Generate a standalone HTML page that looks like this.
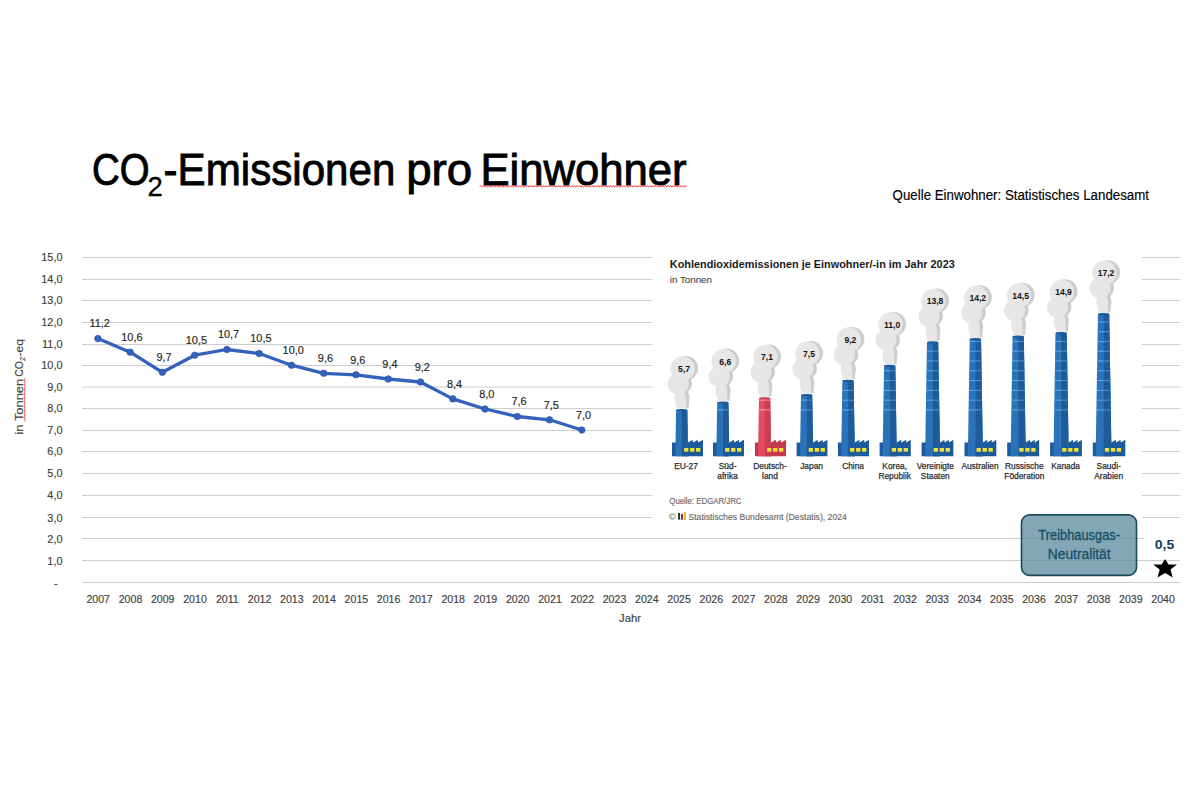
<!DOCTYPE html>
<html><head><meta charset="utf-8"><style>
html,body{margin:0;padding:0;background:#fff;}
body{width:1200px;height:800px;overflow:hidden;position:relative;font-family:"Liberation Sans", sans-serif;}
svg{position:absolute;left:0;top:0;}
</style></head><body>
<svg width="1200" height="800" viewBox="0 0 1200 800">
<g font-family='"Liberation Sans", sans-serif' fill="#000" stroke="#000" stroke-width="0.9">
<text x="92" y="184.7" font-size="44" textLength="57.5" lengthAdjust="spacingAndGlyphs">CO</text>
<text x="147.6" y="195.6" font-size="27.5" stroke-width="0.3">2</text>
<text x="163.6" y="184.7" font-size="44" textLength="231.8" lengthAdjust="spacingAndGlyphs">-Emissionen</text>
<text x="406.2" y="184.7" font-size="44" textLength="66" lengthAdjust="spacingAndGlyphs">pro</text>
<text x="480.4" y="184.7" font-size="44" textLength="206.2" lengthAdjust="spacingAndGlyphs">Einwohner</text>
</g>
<text x="892.6" y="200.4" font-family='"Liberation Sans", sans-serif' font-size="14" fill="#000" stroke="#000" stroke-width="0.15" textLength="256.4" lengthAdjust="spacingAndGlyphs">Quelle Einwohner: Statistisches Landesamt</text>
<path d="M479.6,186.3 L480.9,185.4 L482.2,187.2 L483.5,185.4 L484.8,187.2 L486.1,185.4 L487.4,187.2 L488.7,185.4 L490.0,187.2 L491.3,185.4 L492.6,187.2 L493.9,185.4 L495.2,187.2 L496.5,185.4 L497.8,187.2 L499.1,185.4 L500.4,187.2 L501.7,185.4 L503.0,187.2 L504.3,185.4 L505.6,187.2 L506.9,185.4 L508.2,187.2 L509.5,185.4 L510.8,187.2 L512.1,185.4 L513.4,187.2 L514.7,185.4 L516.0,187.2 L517.3,185.4 L518.6,187.2 L519.9,185.4 L521.2,187.2 L522.5,185.4 L523.8,187.2 L525.1,185.4 L526.4,187.2 L527.7,185.4 L529.0,187.2 L530.3,185.4 L531.6,187.2 L532.9,185.4 L534.2,187.2 L535.5,185.4 L536.8,187.2 L538.1,185.4 L539.4,187.2 L540.7,185.4 L542.0,187.2 L543.3,185.4 L544.6,187.2 L545.9,185.4 L547.2,187.2 L548.5,185.4 L549.8,187.2 L551.1,185.4 L552.4,187.2 L553.7,185.4 L555.0,187.2 L556.3,185.4 L557.6,187.2 L558.9,185.4 L560.2,187.2 L561.5,185.4 L562.8,187.2 L564.1,185.4 L565.4,187.2 L566.7,185.4 L568.0,187.2 L569.3,185.4 L570.6,187.2 L571.9,185.4 L573.2,187.2 L574.5,185.4 L575.8,187.2 L577.1,185.4 L578.4,187.2 L579.7,185.4 L581.0,187.2 L582.3,185.4 L583.6,187.2 L584.9,185.4 L586.2,187.2 L587.5,185.4 L588.8,187.2 L590.1,185.4 L591.4,187.2 L592.7,185.4 L594.0,187.2 L595.3,185.4 L596.6,187.2 L597.9,185.4 L599.2,187.2 L600.5,185.4 L601.8,187.2 L603.1,185.4 L604.4,187.2 L605.7,185.4 L607.0,187.2 L608.3,185.4 L609.6,187.2 L610.9,185.4 L612.2,187.2 L613.5,185.4 L614.8,187.2 L616.1,185.4 L617.4,187.2 L618.7,185.4 L620.0,187.2 L621.3,185.4 L622.6,187.2 L623.9,185.4 L625.2,187.2 L626.5,185.4 L627.8,187.2 L629.1,185.4 L630.4,187.2 L631.7,185.4 L633.0,187.2 L634.3,185.4 L635.6,187.2 L636.9,185.4 L638.2,187.2 L639.5,185.4 L640.8,187.2 L642.1,185.4 L643.4,187.2 L644.7,185.4 L646.0,187.2 L647.3,185.4 L648.6,187.2 L649.9,185.4 L651.2,187.2 L652.5,185.4 L653.8,187.2 L655.1,185.4 L656.4,187.2 L657.7,185.4 L659.0,187.2 L660.3,185.4 L661.6,187.2 L662.9,185.4 L664.2,187.2 L665.5,185.4 L666.8,187.2 L668.1,185.4 L669.4,187.2 L670.7,185.4 L672.0,187.2 L673.3,185.4 L674.6,187.2 L675.9,185.4 L677.2,187.2 L678.5,185.4 L679.8,187.2 L681.1,185.4 L682.4,187.2 L683.7,185.4 L685.0,187.2 L686.3,185.4" fill="none" stroke="#e03030" stroke-width="0.8"/>
<g stroke="#cdcdcd" stroke-width="1"><line x1="82" y1="582.5" x2="1180" y2="582.5"/><line x1="82" y1="560.5" x2="1180" y2="560.5"/><line x1="82" y1="538.5" x2="1180" y2="538.5"/><line x1="82" y1="517.5" x2="1180" y2="517.5"/><line x1="82" y1="495.5" x2="1180" y2="495.5"/><line x1="82" y1="473.5" x2="1180" y2="473.5"/><line x1="82" y1="451.5" x2="1180" y2="451.5"/><line x1="82" y1="430.5" x2="1180" y2="430.5"/><line x1="82" y1="408.5" x2="1180" y2="408.5"/><line x1="82" y1="387.0" x2="1180" y2="387.0"/><line x1="82" y1="365.5" x2="1180" y2="365.5"/><line x1="82" y1="344.5" x2="1180" y2="344.5"/><line x1="82" y1="322.5" x2="1180" y2="322.5"/><line x1="82" y1="300.5" x2="1180" y2="300.5"/><line x1="82" y1="279.5" x2="1180" y2="279.5"/><line x1="82" y1="257.5" x2="1180" y2="257.5"/></g>
<g font-family='"Liberation Sans", sans-serif' font-size="10.9" fill="#404040" stroke="#404040" stroke-width="0.15"><text x="62.5" y="564.5" text-anchor="end">1,0</text><text x="62.5" y="542.5" text-anchor="end">2,0</text><text x="62.5" y="521.5" text-anchor="end">3,0</text><text x="62.5" y="499.4" text-anchor="end">4,0</text><text x="62.5" y="477.4" text-anchor="end">5,0</text><text x="62.5" y="455.4" text-anchor="end">6,0</text><text x="62.5" y="434.4" text-anchor="end">7,0</text><text x="62.5" y="412.4" text-anchor="end">8,0</text><text x="62.5" y="390.9" text-anchor="end">9,0</text><text x="62.5" y="369.4" text-anchor="end">10,0</text><text x="62.5" y="348.4" text-anchor="end">11,0</text><text x="62.5" y="326.4" text-anchor="end">12,0</text><text x="62.5" y="304.4" text-anchor="end">13,0</text><text x="62.5" y="283.4" text-anchor="end">14,0</text><text x="62.5" y="261.4" text-anchor="end">15,0</text><text x="57.6" y="586.5" text-anchor="end">-</text></g>
<g font-family='"Liberation Sans", sans-serif' font-size="10.6" fill="#404040" stroke="#404040" stroke-width="0.15"><text x="98.2" y="602.9" text-anchor="middle">2007</text><text x="130.5" y="602.9" text-anchor="middle">2008</text><text x="162.7" y="602.9" text-anchor="middle">2009</text><text x="195.0" y="602.9" text-anchor="middle">2010</text><text x="227.3" y="602.9" text-anchor="middle">2011</text><text x="259.6" y="602.9" text-anchor="middle">2012</text><text x="291.8" y="602.9" text-anchor="middle">2013</text><text x="324.1" y="602.9" text-anchor="middle">2014</text><text x="356.4" y="602.9" text-anchor="middle">2015</text><text x="388.6" y="602.9" text-anchor="middle">2016</text><text x="420.9" y="602.9" text-anchor="middle">2017</text><text x="453.2" y="602.9" text-anchor="middle">2018</text><text x="485.4" y="602.9" text-anchor="middle">2019</text><text x="517.7" y="602.9" text-anchor="middle">2020</text><text x="550.0" y="602.9" text-anchor="middle">2021</text><text x="582.3" y="602.9" text-anchor="middle">2022</text><text x="614.5" y="602.9" text-anchor="middle">2023</text><text x="646.8" y="602.9" text-anchor="middle">2024</text><text x="679.1" y="602.9" text-anchor="middle">2025</text><text x="711.3" y="602.9" text-anchor="middle">2026</text><text x="743.6" y="602.9" text-anchor="middle">2027</text><text x="775.9" y="602.9" text-anchor="middle">2028</text><text x="808.1" y="602.9" text-anchor="middle">2029</text><text x="840.4" y="602.9" text-anchor="middle">2030</text><text x="872.7" y="602.9" text-anchor="middle">2031</text><text x="905.0" y="602.9" text-anchor="middle">2032</text><text x="937.2" y="602.9" text-anchor="middle">2033</text><text x="969.5" y="602.9" text-anchor="middle">2034</text><text x="1001.8" y="602.9" text-anchor="middle">2035</text><text x="1034.0" y="602.9" text-anchor="middle">2036</text><text x="1066.3" y="602.9" text-anchor="middle">2037</text><text x="1098.6" y="602.9" text-anchor="middle">2038</text><text x="1130.8" y="602.9" text-anchor="middle">2039</text><text x="1163.1" y="602.9" text-anchor="middle">2040</text></g>
<text x="630" y="622" text-anchor="middle" font-family='"Liberation Sans", sans-serif' font-size="11.2" fill="#404040" stroke="#404040" stroke-width="0.15">Jahr</text>
<g transform="translate(23,434.5) rotate(-90)" font-family='"Liberation Sans", sans-serif' font-size="11.6" fill="#404040" stroke="#404040" stroke-width="0.12"><text x="0" y="0" textLength="55.7" lengthAdjust="spacingAndGlyphs">in Tonnen</text><text x="57.8" y="0" textLength="15.7" lengthAdjust="spacingAndGlyphs">CO</text><text x="73.6" y="2.2" font-size="7.5" textLength="4.1" lengthAdjust="spacingAndGlyphs">2</text><text x="77.7" y="0" textLength="17.9" lengthAdjust="spacingAndGlyphs">-eq</text></g>
<path d="M24.6,421.4 L25.4,420.1 L23.8,418.8 L25.4,417.5 L23.8,416.2 L25.4,414.9 L23.8,413.6 L25.4,412.3 L23.8,411.0 L25.4,409.7 L23.8,408.4 L25.4,407.1 L23.8,405.8 L25.4,404.5 L23.8,403.2 L25.4,401.9 L23.8,400.6 L25.4,399.3 L23.8,398.0 L25.4,396.7 L23.8,395.4 L25.4,394.1 L23.8,392.8 L25.4,391.5 L23.8,390.2 L25.4,388.9 L23.8,387.6 L25.4,386.3 L23.8,385.0 L25.4,383.7 L23.8,382.4 L25.4,381.1 L23.8,379.8 L25.4,378.5" fill="none" stroke="#e03030" stroke-width="0.8"/>
<path d="M97.9,338.6 L130.2,352.2 L162.4,372.3 L194.7,355.2 L226.9,349.5 L259.2,353.5 L291.5,365.2 L323.7,373.3 L356.0,374.8 L388.2,379.0 L420.5,382.0 L452.8,398.9 L485.0,409.0 L517.3,416.5 L549.5,419.8 L581.8,430.0" fill="none" stroke="#3461bc" stroke-width="3.3" stroke-linejoin="round"/>
<g fill="#3461bc" stroke="#2a54a8" stroke-width="0.6"><circle cx="97.9" cy="338.6" r="3.3"/><circle cx="130.2" cy="352.2" r="3.3"/><circle cx="162.4" cy="372.3" r="3.3"/><circle cx="194.7" cy="355.2" r="3.3"/><circle cx="226.9" cy="349.5" r="3.3"/><circle cx="259.2" cy="353.5" r="3.3"/><circle cx="291.5" cy="365.2" r="3.3"/><circle cx="323.7" cy="373.3" r="3.3"/><circle cx="356.0" cy="374.8" r="3.3"/><circle cx="388.2" cy="379.0" r="3.3"/><circle cx="420.5" cy="382.0" r="3.3"/><circle cx="452.8" cy="398.9" r="3.3"/><circle cx="485.0" cy="409.0" r="3.3"/><circle cx="517.3" cy="416.5" r="3.3"/><circle cx="549.5" cy="419.8" r="3.3"/><circle cx="581.8" cy="430.0" r="3.3"/></g>
<g font-family='"Liberation Sans", sans-serif' font-size="10.9" fill="#1e1e1e" stroke="#1e1e1e" stroke-width="0.15"><text x="99.6" y="327.2" text-anchor="middle">11,2</text><text x="131.9" y="340.9" text-anchor="middle">10,6</text><text x="164.1" y="361.0" text-anchor="middle">9,7</text><text x="196.4" y="343.9" text-anchor="middle">10,5</text><text x="228.6" y="338.2" text-anchor="middle">10,7</text><text x="260.9" y="342.2" text-anchor="middle">10,5</text><text x="293.2" y="353.9" text-anchor="middle">10,0</text><text x="325.4" y="362.0" text-anchor="middle">9,6</text><text x="357.7" y="363.5" text-anchor="middle">9,6</text><text x="389.9" y="367.7" text-anchor="middle">9,4</text><text x="422.2" y="370.7" text-anchor="middle">9,2</text><text x="454.5" y="387.6" text-anchor="middle">8,4</text><text x="486.7" y="397.7" text-anchor="middle">8,0</text><text x="519.0" y="405.2" text-anchor="middle">7,6</text><text x="551.2" y="408.5" text-anchor="middle">7,5</text><text x="583.5" y="418.7" text-anchor="middle">7,0</text></g>
<rect x="652" y="247" width="490" height="282" fill="#ffffff"/>
<text x="669.8" y="268.3" font-family='"Liberation Sans", sans-serif' font-weight="bold" font-size="11.4" fill="#1a1a1a" textLength="285" lengthAdjust="spacingAndGlyphs">Kohlendioxidemissionen je Einwohner/-in im Jahr 2023</text>
<text x="669.8" y="282.7" font-family='"Liberation Sans", sans-serif' font-size="9.9" fill="#444" stroke="#444" stroke-width="0.1" textLength="42.2" lengthAdjust="spacingAndGlyphs">in Tonnen</text>
<g fill="#cdcdcd"><ellipse cx="685.9" cy="368.3" rx="12.2" ry="12.2"/><ellipse cx="681.5" cy="383.6" rx="10.6" ry="10.6"/><ellipse cx="683.7" cy="398.3" rx="5.8" ry="9.6"/><rect x="679.7" y="401.9" width="9" height="6.4"/><ellipse cx="727.0" cy="360.8" rx="12.2" ry="12.2"/><ellipse cx="722.6" cy="376.1" rx="10.6" ry="10.6"/><ellipse cx="724.8" cy="390.8" rx="5.8" ry="9.6"/><rect x="720.8" y="394.4" width="9" height="6.4"/><ellipse cx="768.8" cy="356.6" rx="12.2" ry="12.2"/><ellipse cx="764.4" cy="371.9" rx="10.6" ry="10.6"/><ellipse cx="766.6" cy="386.6" rx="5.8" ry="9.6"/><rect x="762.6" y="390.2" width="9" height="6.4"/><ellipse cx="810.8" cy="353.3" rx="12.2" ry="12.2"/><ellipse cx="806.4" cy="368.6" rx="10.6" ry="10.6"/><ellipse cx="808.6" cy="383.3" rx="5.8" ry="9.6"/><rect x="804.6" y="386.9" width="9" height="6.4"/><ellipse cx="852.2" cy="339.1" rx="12.2" ry="12.2"/><ellipse cx="847.8" cy="354.4" rx="10.6" ry="10.6"/><ellipse cx="850.0" cy="369.1" rx="5.8" ry="9.6"/><rect x="846.0" y="372.7" width="9" height="6.4"/><ellipse cx="893.9" cy="324.1" rx="12.2" ry="12.2"/><ellipse cx="889.5" cy="339.4" rx="10.6" ry="10.6"/><ellipse cx="891.7" cy="354.1" rx="5.8" ry="9.6"/><rect x="887.7" y="357.7" width="9" height="6.4"/><ellipse cx="936.8" cy="300.7" rx="12.2" ry="12.2"/><ellipse cx="932.4" cy="316.0" rx="10.6" ry="10.6"/><ellipse cx="934.6" cy="330.7" rx="5.8" ry="9.6"/><rect x="930.6" y="334.3" width="9" height="6.4"/><ellipse cx="979.6" cy="297.4" rx="12.2" ry="12.2"/><ellipse cx="975.2" cy="312.7" rx="10.6" ry="10.6"/><ellipse cx="977.4" cy="327.4" rx="5.8" ry="9.6"/><rect x="973.4" y="331.0" width="9" height="6.4"/><ellipse cx="1022.4" cy="294.9" rx="12.2" ry="12.2"/><ellipse cx="1018.0" cy="310.2" rx="10.6" ry="10.6"/><ellipse cx="1020.2" cy="324.9" rx="5.8" ry="9.6"/><rect x="1016.2" y="328.5" width="9" height="6.4"/><ellipse cx="1065.3" cy="291.5" rx="12.2" ry="12.2"/><ellipse cx="1060.9" cy="306.8" rx="10.6" ry="10.6"/><ellipse cx="1063.1" cy="321.5" rx="5.8" ry="9.6"/><rect x="1059.1" y="325.1" width="9" height="6.4"/><ellipse cx="1107.8" cy="272.4" rx="12.2" ry="12.2"/><ellipse cx="1103.4" cy="287.7" rx="10.6" ry="10.6"/><ellipse cx="1105.6" cy="302.4" rx="5.8" ry="9.6"/><rect x="1101.6" y="306.0" width="9" height="6.4"/></g>
<g fill="#e7e7e7"><ellipse cx="682.5" cy="368.7" rx="12.2" ry="12.2"/><ellipse cx="678.1" cy="384.0" rx="10.6" ry="10.6"/><ellipse cx="680.3" cy="398.7" rx="5.8" ry="9.6"/><rect x="676.5" y="401.9" width="9.8" height="6.4"/><ellipse cx="723.6" cy="361.2" rx="12.2" ry="12.2"/><ellipse cx="719.2" cy="376.5" rx="10.6" ry="10.6"/><ellipse cx="721.4" cy="391.2" rx="5.8" ry="9.6"/><rect x="717.6" y="394.4" width="9.8" height="6.4"/><ellipse cx="765.4" cy="357.0" rx="12.2" ry="12.2"/><ellipse cx="761.0" cy="372.3" rx="10.6" ry="10.6"/><ellipse cx="763.2" cy="387.0" rx="5.8" ry="9.6"/><rect x="759.4" y="390.2" width="9.8" height="6.4"/><ellipse cx="807.4" cy="353.7" rx="12.2" ry="12.2"/><ellipse cx="803.0" cy="369.0" rx="10.6" ry="10.6"/><ellipse cx="805.2" cy="383.7" rx="5.8" ry="9.6"/><rect x="801.4" y="386.9" width="9.8" height="6.4"/><ellipse cx="848.8" cy="339.5" rx="12.2" ry="12.2"/><ellipse cx="844.4" cy="354.8" rx="10.6" ry="10.6"/><ellipse cx="846.6" cy="369.5" rx="5.8" ry="9.6"/><rect x="842.8" y="372.7" width="9.8" height="6.4"/><ellipse cx="890.5" cy="324.5" rx="12.2" ry="12.2"/><ellipse cx="886.1" cy="339.8" rx="10.6" ry="10.6"/><ellipse cx="888.3" cy="354.5" rx="5.8" ry="9.6"/><rect x="884.5" y="357.7" width="9.8" height="6.4"/><ellipse cx="933.4" cy="301.1" rx="12.2" ry="12.2"/><ellipse cx="929.0" cy="316.4" rx="10.6" ry="10.6"/><ellipse cx="931.2" cy="331.1" rx="5.8" ry="9.6"/><rect x="927.4" y="334.3" width="9.8" height="6.4"/><ellipse cx="976.2" cy="297.8" rx="12.2" ry="12.2"/><ellipse cx="971.8" cy="313.1" rx="10.6" ry="10.6"/><ellipse cx="974.0" cy="327.8" rx="5.8" ry="9.6"/><rect x="970.2" y="331.0" width="9.8" height="6.4"/><ellipse cx="1019.0" cy="295.3" rx="12.2" ry="12.2"/><ellipse cx="1014.6" cy="310.6" rx="10.6" ry="10.6"/><ellipse cx="1016.8" cy="325.3" rx="5.8" ry="9.6"/><rect x="1013.0" y="328.5" width="9.8" height="6.4"/><ellipse cx="1061.9" cy="291.9" rx="12.2" ry="12.2"/><ellipse cx="1057.5" cy="307.2" rx="10.6" ry="10.6"/><ellipse cx="1059.7" cy="321.9" rx="5.8" ry="9.6"/><rect x="1055.9" y="325.1" width="9.8" height="6.4"/><ellipse cx="1104.4" cy="272.8" rx="12.2" ry="12.2"/><ellipse cx="1100.0" cy="288.1" rx="10.6" ry="10.6"/><ellipse cx="1102.2" cy="302.8" rx="5.8" ry="9.6"/><rect x="1098.4" y="306.0" width="9.8" height="6.4"/></g>
<polygon points="672.0,456.2 672.0,442.4 687.8,442.4 688.4,442.3 692.9,439.7 692.9,442.2 693.5,442.3 697.9,439.7 697.9,442.2 698.5,442.3 703.0,439.7 703.0,439.7 703.0,456.2" fill="#1d5a9c"/><polygon points="676.08,410.0 687.32,410.0 688.08,456.2 675.32,456.2" fill="#2a72ba"/><polygon points="681.90,410.0 687.32,410.0 688.08,456.2 681.90,456.2" fill="#1e5b98"/><ellipse cx="681.70" cy="410.0" rx="5.60" ry="1.1" fill="#1e5b98"/><rect x="684.1" y="448.0" width="4.3" height="3.7" fill="#f0e23c"/><rect x="690.1" y="448.0" width="4.3" height="3.7" fill="#f0e23c"/><rect x="696.0" y="448.0" width="4.3" height="3.7" fill="#f0e23c"/><polygon points="713.0,456.2 713.0,442.4 729.1,442.4 729.7,442.3 734.0,439.7 734.0,442.2 734.6,442.3 739.0,439.7 739.0,442.2 739.6,442.3 744.0,439.7 744.0,439.7 744.0,456.2" fill="#1d5a9c"/><polygon points="717.18,402.5 728.42,402.5 729.30,456.2 716.30,456.2" fill="#2a72ba"/><polygon points="723.00,402.5 728.42,402.5 729.30,456.2 723.00,456.2" fill="#1e5b98"/><ellipse cx="722.80" cy="402.5" rx="5.60" ry="1.1" fill="#1e5b98"/><rect x="717.06" y="409.3" width="5.94" height="1.1" fill="#5ea8e8"/><rect x="723.00" y="409.3" width="5.54" height="1.1" fill="#4d8dc8"/><rect x="725.1" y="448.0" width="4.3" height="3.7" fill="#f0e23c"/><rect x="731.1" y="448.0" width="4.3" height="3.7" fill="#f0e23c"/><rect x="737.0" y="448.0" width="4.3" height="3.7" fill="#f0e23c"/><polygon points="755.0,456.2 755.0,442.4 770.9,442.4 771.5,442.3 776.0,439.7 776.0,442.2 776.6,442.3 781.0,439.7 781.0,442.2 781.6,442.3 786.0,439.7 786.0,439.7 786.0,456.2" fill="#c63a4e"/><polygon points="758.98,398.3 770.22,398.3 771.17,456.2 758.03,456.2" fill="#e24b60"/><polygon points="764.80,398.3 770.22,398.3 771.17,456.2 764.80,456.2" fill="#c93e52"/><ellipse cx="764.60" cy="398.3" rx="5.60" ry="1.1" fill="#c93e52"/><rect x="758.79" y="409.3" width="6.01" height="1.1" fill="#f6a5b0"/><rect x="764.80" y="409.3" width="5.61" height="1.1" fill="#e98d99"/><rect x="758.95" y="399.6" width="5.85" height="1.1" fill="#f6a5b0"/><rect x="764.80" y="399.6" width="5.45" height="1.1" fill="#e98d99"/><rect x="767.1" y="448.0" width="4.3" height="3.7" fill="#f0e23c"/><rect x="773.1" y="448.0" width="4.3" height="3.7" fill="#f0e23c"/><rect x="779.0" y="448.0" width="4.3" height="3.7" fill="#f0e23c"/><polygon points="796.6,456.2 796.6,442.4 813.0,442.4 813.6,442.3 817.8,439.7 817.8,442.2 818.4,442.3 822.6,439.7 822.6,442.2 823.2,442.3 827.4,439.7 827.4,439.7 827.4,456.2" fill="#1d5a9c"/><polygon points="800.98,395.0 812.22,395.0 813.23,456.2 799.97,456.2" fill="#2a72ba"/><polygon points="806.80,395.0 812.22,395.0 813.23,456.2 806.80,456.2" fill="#1e5b98"/><ellipse cx="806.60" cy="395.0" rx="5.60" ry="1.1" fill="#1e5b98"/><rect x="800.74" y="409.3" width="6.06" height="1.1" fill="#5ea8e8"/><rect x="806.80" y="409.3" width="5.66" height="1.1" fill="#4d8dc8"/><rect x="800.90" y="399.6" width="5.90" height="1.1" fill="#5ea8e8"/><rect x="806.80" y="399.6" width="5.50" height="1.1" fill="#4d8dc8"/><rect x="808.7" y="448.0" width="4.3" height="3.7" fill="#f0e23c"/><rect x="814.7" y="448.0" width="4.3" height="3.7" fill="#f0e23c"/><rect x="820.6" y="448.0" width="4.3" height="3.7" fill="#f0e23c"/><polygon points="838.0,456.2 838.0,442.4 854.6,442.4 855.2,442.3 859.4,439.7 859.4,442.2 860.0,442.3 864.2,439.7 864.2,442.2 864.8,442.3 869.0,439.7 869.0,439.7 869.0,456.2" fill="#1d5a9c"/><polygon points="842.38,380.8 853.62,380.8 854.86,456.2 841.14,456.2" fill="#2a72ba"/><polygon points="848.20,380.8 853.62,380.8 854.86,456.2 848.20,456.2" fill="#1e5b98"/><ellipse cx="848.00" cy="380.8" rx="5.60" ry="1.1" fill="#1e5b98"/><rect x="841.90" y="409.3" width="6.30" height="1.1" fill="#5ea8e8"/><rect x="848.20" y="409.3" width="5.90" height="1.1" fill="#4d8dc8"/><rect x="842.06" y="399.6" width="6.14" height="1.1" fill="#5ea8e8"/><rect x="848.20" y="399.6" width="5.74" height="1.1" fill="#4d8dc8"/><rect x="842.22" y="389.8" width="5.98" height="1.1" fill="#5ea8e8"/><rect x="848.20" y="389.8" width="5.58" height="1.1" fill="#4d8dc8"/><rect x="850.1" y="448.0" width="4.3" height="3.7" fill="#f0e23c"/><rect x="856.1" y="448.0" width="4.3" height="3.7" fill="#f0e23c"/><rect x="862.0" y="448.0" width="4.3" height="3.7" fill="#f0e23c"/><polygon points="879.6,456.2 879.6,442.4 896.6,442.4 897.2,442.3 901.3,439.7 901.3,442.2 901.9,442.3 906.1,439.7 906.1,442.2 906.7,442.3 910.8,439.7 910.8,439.7 910.8,456.2" fill="#1d5a9c"/><polygon points="884.08,365.8 895.32,365.8 896.81,456.2 882.59,456.2" fill="#2a72ba"/><polygon points="889.90,365.8 895.32,365.8 896.81,456.2 889.90,456.2" fill="#1e5b98"/><ellipse cx="889.70" cy="365.8" rx="5.60" ry="1.1" fill="#1e5b98"/><rect x="883.35" y="409.3" width="6.55" height="1.1" fill="#5ea8e8"/><rect x="889.90" y="409.3" width="6.15" height="1.1" fill="#4d8dc8"/><rect x="883.52" y="399.6" width="6.38" height="1.1" fill="#5ea8e8"/><rect x="889.90" y="399.6" width="5.98" height="1.1" fill="#4d8dc8"/><rect x="883.68" y="389.8" width="6.22" height="1.1" fill="#5ea8e8"/><rect x="889.90" y="389.8" width="5.82" height="1.1" fill="#4d8dc8"/><rect x="883.84" y="380.0" width="6.06" height="1.1" fill="#5ea8e8"/><rect x="889.90" y="380.0" width="5.66" height="1.1" fill="#4d8dc8"/><rect x="884.00" y="370.2" width="5.90" height="1.1" fill="#5ea8e8"/><rect x="889.90" y="370.2" width="5.50" height="1.1" fill="#4d8dc8"/><rect x="891.7" y="448.0" width="4.3" height="3.7" fill="#f0e23c"/><rect x="897.7" y="448.0" width="4.3" height="3.7" fill="#f0e23c"/><rect x="903.6" y="448.0" width="4.3" height="3.7" fill="#f0e23c"/><polygon points="921.6,456.2 921.6,442.4 939.9,442.4 940.5,442.3 944.4,439.7 944.4,442.2 945.0,442.3 948.9,439.7 948.9,442.2 949.5,442.3 953.4,439.7 953.4,439.7 953.4,456.2" fill="#1d5a9c"/><polygon points="926.98,342.4 938.22,342.4 940.10,456.2 925.10,456.2" fill="#2a72ba"/><polygon points="932.80,342.4 938.22,342.4 940.10,456.2 932.80,456.2" fill="#1e5b98"/><ellipse cx="932.60" cy="342.4" rx="5.60" ry="1.1" fill="#1e5b98"/><rect x="925.87" y="409.3" width="6.93" height="1.1" fill="#5ea8e8"/><rect x="932.80" y="409.3" width="6.53" height="1.1" fill="#4d8dc8"/><rect x="926.03" y="399.6" width="6.77" height="1.1" fill="#5ea8e8"/><rect x="932.80" y="399.6" width="6.37" height="1.1" fill="#4d8dc8"/><rect x="926.19" y="389.8" width="6.61" height="1.1" fill="#5ea8e8"/><rect x="932.80" y="389.8" width="6.21" height="1.1" fill="#4d8dc8"/><rect x="926.35" y="380.0" width="6.45" height="1.1" fill="#5ea8e8"/><rect x="932.80" y="380.0" width="6.05" height="1.1" fill="#4d8dc8"/><rect x="926.51" y="370.2" width="6.29" height="1.1" fill="#5ea8e8"/><rect x="932.80" y="370.2" width="5.89" height="1.1" fill="#4d8dc8"/><rect x="926.68" y="360.4" width="6.12" height="1.1" fill="#5ea8e8"/><rect x="932.80" y="360.4" width="5.72" height="1.1" fill="#4d8dc8"/><rect x="926.84" y="350.7" width="5.96" height="1.1" fill="#5ea8e8"/><rect x="932.80" y="350.7" width="5.56" height="1.1" fill="#4d8dc8"/><rect x="933.7" y="448.0" width="4.3" height="3.7" fill="#f0e23c"/><rect x="939.7" y="448.0" width="4.3" height="3.7" fill="#f0e23c"/><rect x="945.6" y="448.0" width="4.3" height="3.7" fill="#f0e23c"/><polygon points="964.5,456.2 964.5,442.4 982.7,442.4 983.3,442.3 987.2,439.7 987.2,442.2 987.8,442.3 991.8,439.7 991.8,442.2 992.4,442.3 996.3,439.7 996.3,439.7 996.3,456.2" fill="#1d5a9c"/><polygon points="969.78,339.1 981.02,339.1 982.95,456.2 967.85,456.2" fill="#2a72ba"/><polygon points="975.60,339.1 981.02,339.1 982.95,456.2 975.60,456.2" fill="#1e5b98"/><ellipse cx="975.40" cy="339.1" rx="5.60" ry="1.1" fill="#1e5b98"/><rect x="968.61" y="409.3" width="6.99" height="1.1" fill="#5ea8e8"/><rect x="975.60" y="409.3" width="6.59" height="1.1" fill="#4d8dc8"/><rect x="968.77" y="399.6" width="6.83" height="1.1" fill="#5ea8e8"/><rect x="975.60" y="399.6" width="6.43" height="1.1" fill="#4d8dc8"/><rect x="968.94" y="389.8" width="6.66" height="1.1" fill="#5ea8e8"/><rect x="975.60" y="389.8" width="6.26" height="1.1" fill="#4d8dc8"/><rect x="969.10" y="380.0" width="6.50" height="1.1" fill="#5ea8e8"/><rect x="975.60" y="380.0" width="6.10" height="1.1" fill="#4d8dc8"/><rect x="969.26" y="370.2" width="6.34" height="1.1" fill="#5ea8e8"/><rect x="975.60" y="370.2" width="5.94" height="1.1" fill="#4d8dc8"/><rect x="969.42" y="360.4" width="6.18" height="1.1" fill="#5ea8e8"/><rect x="975.60" y="360.4" width="5.78" height="1.1" fill="#4d8dc8"/><rect x="969.58" y="350.7" width="6.02" height="1.1" fill="#5ea8e8"/><rect x="975.60" y="350.7" width="5.62" height="1.1" fill="#4d8dc8"/><rect x="969.74" y="340.9" width="5.86" height="1.1" fill="#5ea8e8"/><rect x="975.60" y="340.9" width="5.46" height="1.1" fill="#4d8dc8"/><rect x="976.6" y="448.0" width="4.3" height="3.7" fill="#f0e23c"/><rect x="982.6" y="448.0" width="4.3" height="3.7" fill="#f0e23c"/><rect x="988.5" y="448.0" width="4.3" height="3.7" fill="#f0e23c"/><polygon points="1007.2,456.2 1007.2,442.4 1025.6,442.4 1026.2,442.3 1030.1,439.7 1030.1,442.2 1030.7,442.3 1034.7,439.7 1034.7,442.2 1035.3,442.3 1039.2,439.7 1039.2,439.7 1039.2,456.2" fill="#1d5a9c"/><polygon points="1012.58,336.6 1023.82,336.6 1025.79,456.2 1010.61,456.2" fill="#2a72ba"/><polygon points="1018.40,336.6 1023.82,336.6 1025.79,456.2 1018.40,456.2" fill="#1e5b98"/><ellipse cx="1018.20" cy="336.6" rx="5.60" ry="1.1" fill="#1e5b98"/><rect x="1011.37" y="409.3" width="7.03" height="1.1" fill="#5ea8e8"/><rect x="1018.40" y="409.3" width="6.63" height="1.1" fill="#4d8dc8"/><rect x="1011.53" y="399.6" width="6.87" height="1.1" fill="#5ea8e8"/><rect x="1018.40" y="399.6" width="6.47" height="1.1" fill="#4d8dc8"/><rect x="1011.69" y="389.8" width="6.71" height="1.1" fill="#5ea8e8"/><rect x="1018.40" y="389.8" width="6.31" height="1.1" fill="#4d8dc8"/><rect x="1011.86" y="380.0" width="6.54" height="1.1" fill="#5ea8e8"/><rect x="1018.40" y="380.0" width="6.14" height="1.1" fill="#4d8dc8"/><rect x="1012.02" y="370.2" width="6.38" height="1.1" fill="#5ea8e8"/><rect x="1018.40" y="370.2" width="5.98" height="1.1" fill="#4d8dc8"/><rect x="1012.18" y="360.4" width="6.22" height="1.1" fill="#5ea8e8"/><rect x="1018.40" y="360.4" width="5.82" height="1.1" fill="#4d8dc8"/><rect x="1012.34" y="350.7" width="6.06" height="1.1" fill="#5ea8e8"/><rect x="1018.40" y="350.7" width="5.66" height="1.1" fill="#4d8dc8"/><rect x="1012.50" y="340.9" width="5.90" height="1.1" fill="#5ea8e8"/><rect x="1018.40" y="340.9" width="5.50" height="1.1" fill="#4d8dc8"/><rect x="1019.3" y="448.0" width="4.3" height="3.7" fill="#f0e23c"/><rect x="1025.3" y="448.0" width="4.3" height="3.7" fill="#f0e23c"/><rect x="1031.2" y="448.0" width="4.3" height="3.7" fill="#f0e23c"/><polygon points="1050.1,456.2 1050.1,442.4 1068.5,442.4 1069.1,442.3 1073.0,439.7 1073.0,442.2 1073.6,442.3 1077.4,439.7 1077.4,442.2 1078.0,442.3 1081.9,439.7 1081.9,439.7 1081.9,456.2" fill="#1d5a9c"/><polygon points="1055.48,333.2 1066.72,333.2 1068.75,456.2 1053.45,456.2" fill="#2a72ba"/><polygon points="1061.30,333.2 1066.72,333.2 1068.75,456.2 1061.30,456.2" fill="#1e5b98"/><ellipse cx="1061.10" cy="333.2" rx="5.60" ry="1.1" fill="#1e5b98"/><rect x="1054.22" y="409.3" width="7.08" height="1.1" fill="#5ea8e8"/><rect x="1061.30" y="409.3" width="6.68" height="1.1" fill="#4d8dc8"/><rect x="1054.38" y="399.6" width="6.92" height="1.1" fill="#5ea8e8"/><rect x="1061.30" y="399.6" width="6.52" height="1.1" fill="#4d8dc8"/><rect x="1054.54" y="389.8" width="6.76" height="1.1" fill="#5ea8e8"/><rect x="1061.30" y="389.8" width="6.36" height="1.1" fill="#4d8dc8"/><rect x="1054.70" y="380.0" width="6.60" height="1.1" fill="#5ea8e8"/><rect x="1061.30" y="380.0" width="6.20" height="1.1" fill="#4d8dc8"/><rect x="1054.86" y="370.2" width="6.44" height="1.1" fill="#5ea8e8"/><rect x="1061.30" y="370.2" width="6.04" height="1.1" fill="#4d8dc8"/><rect x="1055.02" y="360.4" width="6.28" height="1.1" fill="#5ea8e8"/><rect x="1061.30" y="360.4" width="5.88" height="1.1" fill="#4d8dc8"/><rect x="1055.19" y="350.7" width="6.11" height="1.1" fill="#5ea8e8"/><rect x="1061.30" y="350.7" width="5.71" height="1.1" fill="#4d8dc8"/><rect x="1055.35" y="340.9" width="5.95" height="1.1" fill="#5ea8e8"/><rect x="1061.30" y="340.9" width="5.55" height="1.1" fill="#4d8dc8"/><rect x="1062.2" y="448.0" width="4.3" height="3.7" fill="#f0e23c"/><rect x="1068.2" y="448.0" width="4.3" height="3.7" fill="#f0e23c"/><rect x="1074.1" y="448.0" width="4.3" height="3.7" fill="#f0e23c"/><polygon points="1092.8,456.2 1092.8,442.4 1111.3,442.4 1111.9,442.3 1116.0,439.7 1116.0,442.2 1116.6,442.3 1120.6,439.7 1120.6,442.2 1121.2,442.3 1125.3,439.7 1125.3,439.7 1125.3,456.2" fill="#1d5a9c"/><polygon points="1097.98,314.1 1109.22,314.1 1111.56,456.2 1095.64,456.2" fill="#2a72ba"/><polygon points="1103.80,314.1 1109.22,314.1 1111.56,456.2 1103.80,456.2" fill="#1e5b98"/><ellipse cx="1103.60" cy="314.1" rx="5.60" ry="1.1" fill="#1e5b98"/><rect x="1096.40" y="409.3" width="7.40" height="1.1" fill="#5ea8e8"/><rect x="1103.80" y="409.3" width="7.00" height="1.1" fill="#4d8dc8"/><rect x="1096.56" y="399.6" width="7.24" height="1.1" fill="#5ea8e8"/><rect x="1103.80" y="399.6" width="6.84" height="1.1" fill="#4d8dc8"/><rect x="1096.72" y="389.8" width="7.08" height="1.1" fill="#5ea8e8"/><rect x="1103.80" y="389.8" width="6.68" height="1.1" fill="#4d8dc8"/><rect x="1096.88" y="380.0" width="6.92" height="1.1" fill="#5ea8e8"/><rect x="1103.80" y="380.0" width="6.52" height="1.1" fill="#4d8dc8"/><rect x="1097.05" y="370.2" width="6.75" height="1.1" fill="#5ea8e8"/><rect x="1103.80" y="370.2" width="6.35" height="1.1" fill="#4d8dc8"/><rect x="1097.21" y="360.4" width="6.59" height="1.1" fill="#5ea8e8"/><rect x="1103.80" y="360.4" width="6.19" height="1.1" fill="#4d8dc8"/><rect x="1097.37" y="350.7" width="6.43" height="1.1" fill="#5ea8e8"/><rect x="1103.80" y="350.7" width="6.03" height="1.1" fill="#4d8dc8"/><rect x="1097.53" y="340.9" width="6.27" height="1.1" fill="#5ea8e8"/><rect x="1103.80" y="340.9" width="5.87" height="1.1" fill="#4d8dc8"/><rect x="1097.69" y="331.1" width="6.11" height="1.1" fill="#5ea8e8"/><rect x="1103.80" y="331.1" width="5.71" height="1.1" fill="#4d8dc8"/><rect x="1097.85" y="321.3" width="5.95" height="1.1" fill="#5ea8e8"/><rect x="1103.80" y="321.3" width="5.55" height="1.1" fill="#4d8dc8"/><rect x="1104.9" y="448.0" width="4.3" height="3.7" fill="#f0e23c"/><rect x="1110.9" y="448.0" width="4.3" height="3.7" fill="#f0e23c"/><rect x="1116.8" y="448.0" width="4.3" height="3.7" fill="#f0e23c"/>
<g font-family='"Liberation Sans", sans-serif' font-weight="bold" font-size="8.6" fill="#141414"><text x="684.1" y="372.0" text-anchor="middle">5,7</text><text x="725.2" y="364.5" text-anchor="middle">6,6</text><text x="767.0" y="360.3" text-anchor="middle">7,1</text><text x="809.0" y="357.0" text-anchor="middle">7,5</text><text x="850.4" y="342.8" text-anchor="middle">9,2</text><text x="892.1" y="327.8" text-anchor="middle">11,0</text><text x="935.0" y="304.4" text-anchor="middle">13,8</text><text x="977.8" y="301.1" text-anchor="middle">14,2</text><text x="1020.6" y="298.6" text-anchor="middle">14,5</text><text x="1063.5" y="295.2" text-anchor="middle">14,9</text><text x="1106.0" y="276.1" text-anchor="middle">17,2</text></g>
<g font-family='"Liberation Sans", sans-serif' font-size="8.4" fill="#2e2e2e" stroke="#2e2e2e" stroke-width="0.25"><text x="686.0" y="468.7" text-anchor="middle">EU-27</text><text x="727.6" y="468.7" text-anchor="middle">Süd-</text><text x="727.6" y="479.1" text-anchor="middle">afrika</text><text x="770.0" y="468.7" text-anchor="middle">Deutsch-</text><text x="770.0" y="479.1" text-anchor="middle">land</text><text x="811.6" y="468.7" text-anchor="middle">Japan</text><text x="853.1" y="468.7" text-anchor="middle">China</text><text x="894.7" y="468.7" text-anchor="middle">Korea,</text><text x="894.7" y="479.1" text-anchor="middle">Republik</text><text x="935.3" y="468.7" text-anchor="middle">Vereinigte</text><text x="935.3" y="479.1" text-anchor="middle">Staaten</text><text x="980.0" y="468.7" text-anchor="middle">Australien</text><text x="1024.3" y="468.7" text-anchor="middle">Russische</text><text x="1024.3" y="479.1" text-anchor="middle">Föderation</text><text x="1065.6" y="468.7" text-anchor="middle">Kanada</text><text x="1108.7" y="468.7" text-anchor="middle">Saudi-</text><text x="1108.7" y="479.1" text-anchor="middle">Arabien</text></g>
<text x="669.3" y="504" font-family='"Liberation Sans", sans-serif' font-size="8.4" fill="#6a6a6a" stroke="#6a6a6a" stroke-width="0.15" textLength="72.2" lengthAdjust="spacingAndGlyphs">Quelle: EDGAR/JRC</text>
<text x="668.9" y="520" font-family='"Liberation Sans", sans-serif' font-size="9" fill="#8a8a8a" stroke="#8a8a8a" stroke-width="0.15">©</text>
<rect x="678.1" y="513" width="1.8" height="6.7" fill="#1c1c1c"/><rect x="681" y="513.9" width="1.9" height="5.8" fill="#8e1b3c"/><rect x="684" y="512" width="2" height="7.7" fill="#efc232"/><rect x="678" y="519.3" width="8" height="0.5" fill="#8898a8"/>
<text x="688.4" y="519.7" font-family='"Liberation Sans", sans-serif' font-size="9" fill="#6a6a6a" stroke="#6a6a6a" stroke-width="0.15" textLength="158.5" lengthAdjust="spacingAndGlyphs">Statistisches Bundesamt (Destatis), 2024</text>
<rect x="1144" y="529" width="38" height="24" fill="#fff"/>
<text x="1164.5" y="549.4" text-anchor="middle" font-family='"Liberation Sans", sans-serif' font-weight="bold" font-size="13.2" fill="#0f3d5e" textLength="19.5" lengthAdjust="spacingAndGlyphs">0,5</text>
<polygon points="1165.1,559.1 1168.6,564.6 1177,564.6 1170.5,569.5 1172.7,577.4 1165.1,573 1157.5,577.4 1159.7,569.5 1153.2,564.6 1161.6,564.6" fill="#000"/>
<rect x="1021.5" y="514.9" width="115" height="60.5" rx="8" ry="8" fill="#5b8a9c" fill-opacity="0.75" stroke="#184a5d" stroke-width="1.6"/>
<g font-family='"Liberation Sans", sans-serif' font-size="13.8" fill="#174f66" stroke="#174f66" stroke-width="0.3" text-anchor="middle"><text x="1079.2" y="540" textLength="81.7" lengthAdjust="spacingAndGlyphs">Treibhausgas-</text><text x="1079.2" y="558.7">Neutralität</text></g>
</svg>
</body></html>
